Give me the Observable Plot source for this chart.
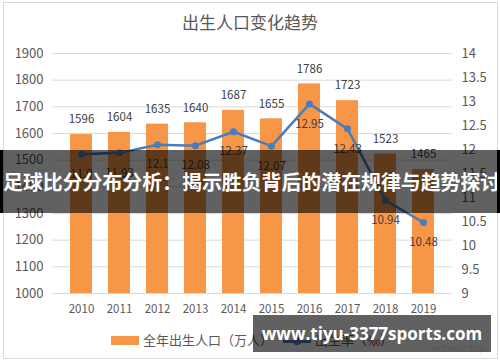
<!DOCTYPE html>
<html><head><meta charset="utf-8">
<script src="https://cdn.jsdelivr.net/npm/d3@7"></script>
<script src="https://cdn.jsdelivr.net/npm/@observablehq/plot@0.6"></script>
<style>
body{margin:0;background:#fff;}
#wrap{position:relative;width:500px;height:362px;overflow:hidden;font-family:"Noto Sans CJK SC",sans-serif;color:#595959;background:#fff;}
#frame{position:absolute;left:3px;top:2px;width:493px;height:355px;border:1px solid #d9d9d9;}
#title{position:absolute;left:0;top:9px;width:500px;text-align:center;font-size:17px;line-height:26px;color:#595959;}
#chart{position:absolute;left:0;top:36px;}
#legend{position:absolute;left:0;top:330px;width:500px;height:20px;font-size:13px;line-height:20px;color:#595959;}
.sw{position:absolute;left:111px;top:6px;width:28px;height:9px;background:#F79646;}
.t1{position:absolute;left:143px;top:0;white-space:nowrap;}
.ln{position:absolute;left:283px;top:10px;width:28px;height:2.5px;background:#4A7EBB;}
.dt{position:absolute;left:293px;top:7px;width:8px;height:8px;border-radius:50%;background:#4A7EBB;}
.t2{position:absolute;left:315px;top:0;white-space:nowrap;}
#vc{position:absolute;left:432px;top:340px;font-size:11px;color:#e6e6e6;font-family:"Noto Sans",sans-serif;}
#banner{position:absolute;left:0;top:150px;width:494px;height:63px;background:rgba(0,0,0,0.62);border-left:3px solid #000;border-right:3px solid #000;color:#fff;font-weight:bold;font-size:19.9px;line-height:63px;white-space:nowrap;overflow:hidden;}
#wm{position:absolute;left:253px;top:315px;width:238px;height:37px;background:rgba(0,0,0,0.62);color:#fff;font-weight:bold;font-size:17px;line-height:37px;text-align:center;white-space:nowrap;font-family:"Open Sans","DejaVu Sans",sans-serif;}
</style></head><body>
<div id="wrap">
  <div id="frame"></div>
  <div id="title">出生人口变化趋势</div>
  <div id="chart"></div>
  <div id="legend">
    <div class="sw"></div><div class="t1">全年出生人口（万人）</div>
    <div class="ln"></div><div class="dt"></div><div class="t2">出生率（‰）</div>
  </div>
  <div id="vc">vcbeat.top</div>
  <div id="banner">足球比分分布分析：揭示胜负背后的潜在规律与趋势探讨</div>
  <div id="wm">www.tiyu-3377sports.com</div>
</div>
<script>
const years = ["2010","2011","2012","2013","2014","2015","2016","2017","2018","2019"];
const births = [1596,1604,1635,1640,1687,1655,1786,1723,1523,1465];
const rates = [11.9,11.93,12.1,12.08,12.37,12.07,12.95,12.43,10.94,10.48];
const leftTicks = [1000,1100,1200,1300,1400,1500,1600,1700,1800,1900];
const rightTicks = [9,9.5,10,10.5,11,11.5,12,12.5,13,13.5,14];
const toLeft = r => 1000 + (r - 9) * 180;
const fromLeft = v => +(((v - 1000) / 180) + 9).toFixed(2);
const data = years.map((y, i) => ({year: y, births: births[i], rate: rates[i], rl: toLeft(rates[i])}));

const chart = Plot.plot({
  width: 500, height: 290,
  marginLeft: 52, marginRight: 48, marginTop: 17, marginBottom: 33,
  style: {fontFamily: '"Noto Sans CJK SC", sans-serif', fontSize: "13px", color: "#595959", background: "transparent"},
  x: {domain: years, padding: 0.42, label: null},
  y: {domain: [1000, 1900], label: null},
  marks: [
    Plot.ruleY(leftTicks, {stroke: "#d9d9d9", strokeWidth: 1}),
    Plot.barY(data, {x: "year", y1: 1000, y2: "births", fill: "#F79646"}),
    Plot.text(data, {x: "year", y: "births", text: d => String(d.births), dy: -15, fill: "#404040", fontSize: 11.5}),
    Plot.line(data, {x: "year", y: "rl", stroke: "#4A7EBB", strokeWidth: 2.5}),
    Plot.dot(data, {x: "year", y: "rl", fill: "#4A7EBB", r: 3.5}),
    Plot.text(data, {x: "year", y: "rl", text: d => String(d.rate), dy: 20, fill: "#404040", fontSize: 11.5}),
    Plot.axisY({ticks: leftTicks, tickFormat: d => String(d), tickSize: 0, tickPadding: 9, label: null, fontSize: 13}),
    Plot.axisY({anchor: "right", ticks: rightTicks.map(toLeft), tickFormat: d => String(fromLeft(d)), tickSize: 0, tickPadding: 9, label: null, fontSize: 13}),
    Plot.axisX({tickSize: 0, tickPadding: 11, label: null, fontSize: 11.5})
  ]
});
document.getElementById("chart").appendChild(chart);
</script>
</body></html>
